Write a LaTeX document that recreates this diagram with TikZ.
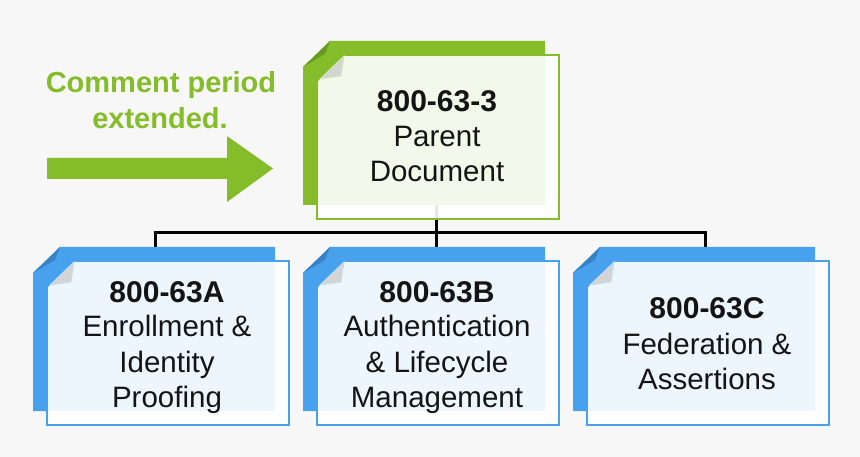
\documentclass[tikz,border=0pt]{standalone}
\usepackage{fontspec}
\setmainfont{Liberation Sans}
\definecolor{bgc}{RGB}{247,247,247}
\definecolor{grn}{RGB}{132,188,42}
\definecolor{grnd}{RGB}{104,156,30}
\definecolor{blu}{RGB}{72,161,236}
\definecolor{blud}{RGB}{56,130,200}
\definecolor{curlc}{RGB}{212,212,212}
\definecolor{inkc}{RGB}{20,20,20}
\newcommand{\docpage}[4]{%
  \fill[#3] (#1+27,#2) -- (#1+242,#2) -- (#1+242,#2+164) -- (#1,#2+164) -- (#1,#2+26) -- cycle;
  \fill[#4] (#1+27,#2) -- (#1+22,#2+13) -- (#1,#2+26) -- cycle;
  \filldraw[fill=white, fill opacity=0.9, draw=#3, line width=1.6] (#1+41,#2+14) -- (#1+256,#2+14) -- (#1+256,#2+178) -- (#1+14,#2+178) -- (#1+14,#2+40) -- cycle;
  \filldraw[fill=curlc, draw=#3!35!white, line width=0.8] (#1+41,#2+15) -- (#1+17,#2+38) -- (#1+38,#2+35) -- cycle;
}
\tikzset{
  conn/.style={draw=black, line width=3},
  ttl/.style={font=\fontsize{30}{35}\selectfont\bfseries, anchor=base, text=inkc, inner sep=0},
  txt/.style={font=\fontsize{29.5}{35}\selectfont, anchor=base, text=inkc, inner sep=0},
  cmt/.style={font=\fontsize{29}{35}\selectfont\bfseries, anchor=base, text=grn, inner sep=0}
}
\begin{document}
\begin{tikzpicture}[x=1pt, y=-1pt]
\useasboundingbox (0,0) rectangle (860,457);
\fill[bgc] (0,0) rectangle (860,457);
% connectors
\coordinate (gbot) at (436,204);
\coordinate (hub) at (436,233);
\coordinate (aT) at (155,249);
\coordinate (bT) at (436,249);
\coordinate (cT) at (705,249);
\draw[conn] (gbot) -- (hub);
\draw[conn, line join=miter] (aT) -- (aT|-hub) -- (cT|-hub) -- (cT);
\draw[conn] (hub) -- (bT);
% documents
\docpage{303}{41}{grn}{grnd}
\docpage{33}{247}{blu}{blud}
\docpage{303}{247}{blu}{blud}
\docpage{573}{247}{blu}{blud}
% arrow
\fill[grn] (47,158) -- (227,158) -- (227,136) -- (273,168.5) -- (227,202) -- (227,179) -- (47,179) -- cycle;
% comment text
\node[cmt] (c1) at (161,93) {Comment period};
\node[cmt] (c2) at (160,129) {extended.};
% parent
\node[ttl] (p1) at (437,112) {800-63-3};
\node[txt] (p2) at (437,147) {Parent};
\node[txt] (p3) at (437,182) {Document};
% A
\node[ttl] (a1) at (167,302) {800-63A};
\node[txt] (a2) at (167,337) {Enrollment \&};
\node[txt] (a3) at (167,372) {Identity};
\node[txt] (a4) at (167,407) {Proofing};
% B
\node[ttl] (b1) at (437,302) {800-63B};
\node[txt] (b2) at (437,337) {Authentication};
\node[txt] (b3) at (437,372) {\& Lifecycle};
\node[txt] (b4) at (437,407) {Management};
% C
\node[ttl] (d1) at (707,319) {800-63C};
\node[txt] (d2) at (707,354) {Federation \&};
\node[txt] (d3) at (707,389) {Assertions};
\end{tikzpicture}
\end{document}
